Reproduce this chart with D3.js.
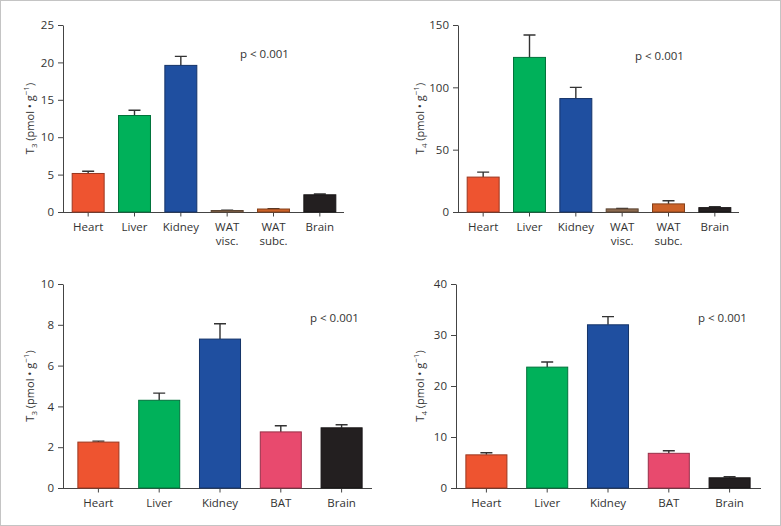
<!DOCTYPE html>
<html>
<head>
<meta charset="utf-8">
<script src="https://cdn.jsdelivr.net/npm/d3@7"></script>
<style>
  body { margin: 0; background: #fff; }
  svg text { font-family: "Open Sans", "Noto Sans", sans-serif; }
</style>
</head>
<body>
<div id="chart"></div>
<script>
'use strict';

// tissues for the top row (WAT) and bottom row (BAT)
const tissuesTop = ["Heart", "Liver", "Kidney", "WAT\nvisc.", "WAT\nsubc.", "Brain"];
const tissuesBottom = ["Heart", "Liver", "Kidney", "BAT", "Brain"];

const colorsTop = ["#ee5430", "#00b15a", "#1f4fa0", "#8c6a4f", "#cc6228", "#231f20"];
const colorsBottom = ["#ee5430", "#00b15a", "#1f4fa0", "#e84a6e", "#231f20"];

// means and upper error (mean + SEM)
const t3Top = [5.15, 12.9, 19.6, 0.2, 0.4, 2.3];
const t3TopErr = [5.45, 13.6, 20.8, 0.25, 0.45, 2.4];
const t4Top = [28, 124, 91, 2.5, 6.5, 3.5];
const t4TopErr = [32, 142, 100, 2.8, 9, 4.2];
const t3Bottom = [2.25, 4.3, 7.3, 2.75, 2.95];
const t3BottomErr = [2.3, 4.65, 8.05, 3.05, 3.1];
const t4Bottom = [6.5, 23.7, 32, 6.8, 2.0];
const t4BottomErr = [6.9, 24.7, 33.6, 7.3, 2.2];

const yTicksT3Top = [0, 5, 10, 15, 20, 25];
const yTicksT4Top = [0, 50, 100, 150];
const yTicksT3Bottom = [0, 2, 4, 6, 8, 10];
const yTicksT4Bottom = [0, 10, 20, 30, 40];

const width = 781, height = 526;
const font = "'Open Sans', 'Noto Sans', sans-serif";

let svg = d3.select("#chart").append("svg")
    .attr("width", width)
    .attr("height", height);

svg.append("rect")
    .attr("x", 0.5).attr("y", 0.5)
    .attr("width", width - 1).attr("height", height - 1)
    .attr("fill", "none")
    .attr("stroke", "#c4c4c4");

function drawPanel(opt) {
    let g = svg.append("g");
    let data = opt.cats.map(function(c, i) {
        return { cat: c, value: opt.values[i], err: opt.errs[i], color: opt.colors[i] };
    });

    let x = d3.scaleBand()
        .domain(opt.cats)
        .range(opt.band)
        .paddingInner(opt.pad)
        .paddingOuter(opt.pad / 2);

    let y = d3.scaleLinear()
        .domain([0, opt.ymax])
        .range([opt.bottom, opt.top]);

    // y axis
    let yAxis = g.append("g")
        .attr("transform", "translate(" + opt.left + ",0)")
        .call(d3.axisLeft(y).tickValues(opt.ticks).tickSize(5).tickSizeOuter(0).tickPadding(4));
    yAxis.attr("font-family", font).attr("font-size", 11.5);
    yAxis.select(".domain").attr("stroke", "#444");
    yAxis.selectAll(".tick line").attr("stroke", "#444");
    yAxis.selectAll("text").attr("fill", "#333");

    // x axis baseline
    g.append("line")
        .attr("x1", opt.left).attr("x2", opt.right)
        .attr("y1", y(0) + 0.5).attr("y2", y(0) + 0.5)
        .attr("stroke", "#444");

    let xAxis = g.append("g")
        .attr("transform", "translate(0," + (y(0) + 0.5) + ")")
        .call(d3.axisBottom(x).tickSize(4).tickSizeOuter(0).tickFormat(""));
    xAxis.attr("font-family", font).attr("font-size", 11.5);
    xAxis.select(".domain").remove();
    xAxis.selectAll(".tick line").attr("stroke", "#444");

    // category labels, one text per line
    xAxis.selectAll(".tick").each(function(d) {
        let tick = d3.select(this);
        tick.select("text").remove();
        d.split("\n").forEach(function(line, i) {
            tick.append("text")
                .attr("y", 10 + i * 14)
                .attr("dy", "0.71em")
                .attr("fill", "#333")
                .text(line);
        });
    });

    // error bars (upper only)
    let cap = 6;
    g.append("g").selectAll("path")
        .data(data)
        .enter().append("path")
        .attr("d", function(d) {
            let cx = x(d.cat) + x.bandwidth() / 2;
            return "M" + cx + "," + y(d.value) + "V" + y(d.err) +
                "M" + (cx - cap) + "," + y(d.err) + "H" + (cx + cap);
        })
        .attr("stroke", "#333")
        .attr("stroke-width", 1.4)
        .attr("fill", "none");

    // bars
    g.append("g").selectAll("rect")
        .data(data)
        .enter().append("rect")
        .attr("x", function(d) { return x(d.cat); })
        .attr("y", function(d) { return y(d.value); })
        .attr("width", x.bandwidth())
        .attr("height", function(d) { return y(0) - y(d.value); })
        .attr("fill", function(d) { return d.color; })
        .attr("stroke", function(d) { return d3.color(d.color).darker(1.2); })
        .attr("stroke-width", 1);

    // y label
    let lab = g.append("text")
        .attr("transform", "translate(" + opt.labelX + "," + (opt.top + opt.bottom) / 2 + ") rotate(-90)")
        .attr("text-anchor", "middle")
        .attr("fill", "#333")
        .style("font-size", "11px");
    lab.append("tspan").text("T");
    lab.append("tspan").attr("dy", 3).style("font-size", "8px").text(opt.sub);
    lab.append("tspan").attr("dy", -3).text(" (pmol \u2022 g");
    lab.append("tspan").attr("dy", -5).style("font-size", "8px").text("\u22121");
    lab.append("tspan").attr("dy", 5).text(")");

    g.append("text")
        .attr("x", opt.pX).attr("y", opt.pY)
        .attr("fill", "#333")
        .style("font-size", "11.5px")
        .text("p < 0.001");
}

drawPanel({
    cats: tissuesTop, values: t3Top, errs: t3TopErr, colors: colorsTop,
    ymax: 25, ticks: yTicksT3Top, sub: "3",
    left: 63, right: 344, top: 25, bottom: 212, band: [65, 343], pad: 0.31,
    labelX: 34, pX: 240, pY: 58
});
drawPanel({
    cats: tissuesTop, values: t4Top, errs: t4TopErr, colors: colorsTop,
    ymax: 150, ticks: yTicksT4Top, sub: "4",
    left: 458, right: 739, top: 25, bottom: 212, band: [460, 738], pad: 0.31,
    labelX: 424, pX: 635, pY: 60
});
drawPanel({
    cats: tissuesBottom, values: t3Bottom, errs: t3BottomErr, colors: colorsBottom,
    ymax: 10, ticks: yTicksT3Bottom, sub: "3",
    left: 63, right: 372, top: 284, bottom: 488, band: [68, 372], pad: 0.325,
    labelX: 34, pX: 310, pY: 322
});
drawPanel({
    cats: tissuesBottom, values: t4Bottom, errs: t4BottomErr, colors: colorsBottom,
    ymax: 40, ticks: yTicksT4Bottom, sub: "4",
    left: 456, right: 761, top: 284, bottom: 488, band: [456, 760], pad: 0.325,
    labelX: 424, pX: 698, pY: 322
});
</script>
</body>
</html>
